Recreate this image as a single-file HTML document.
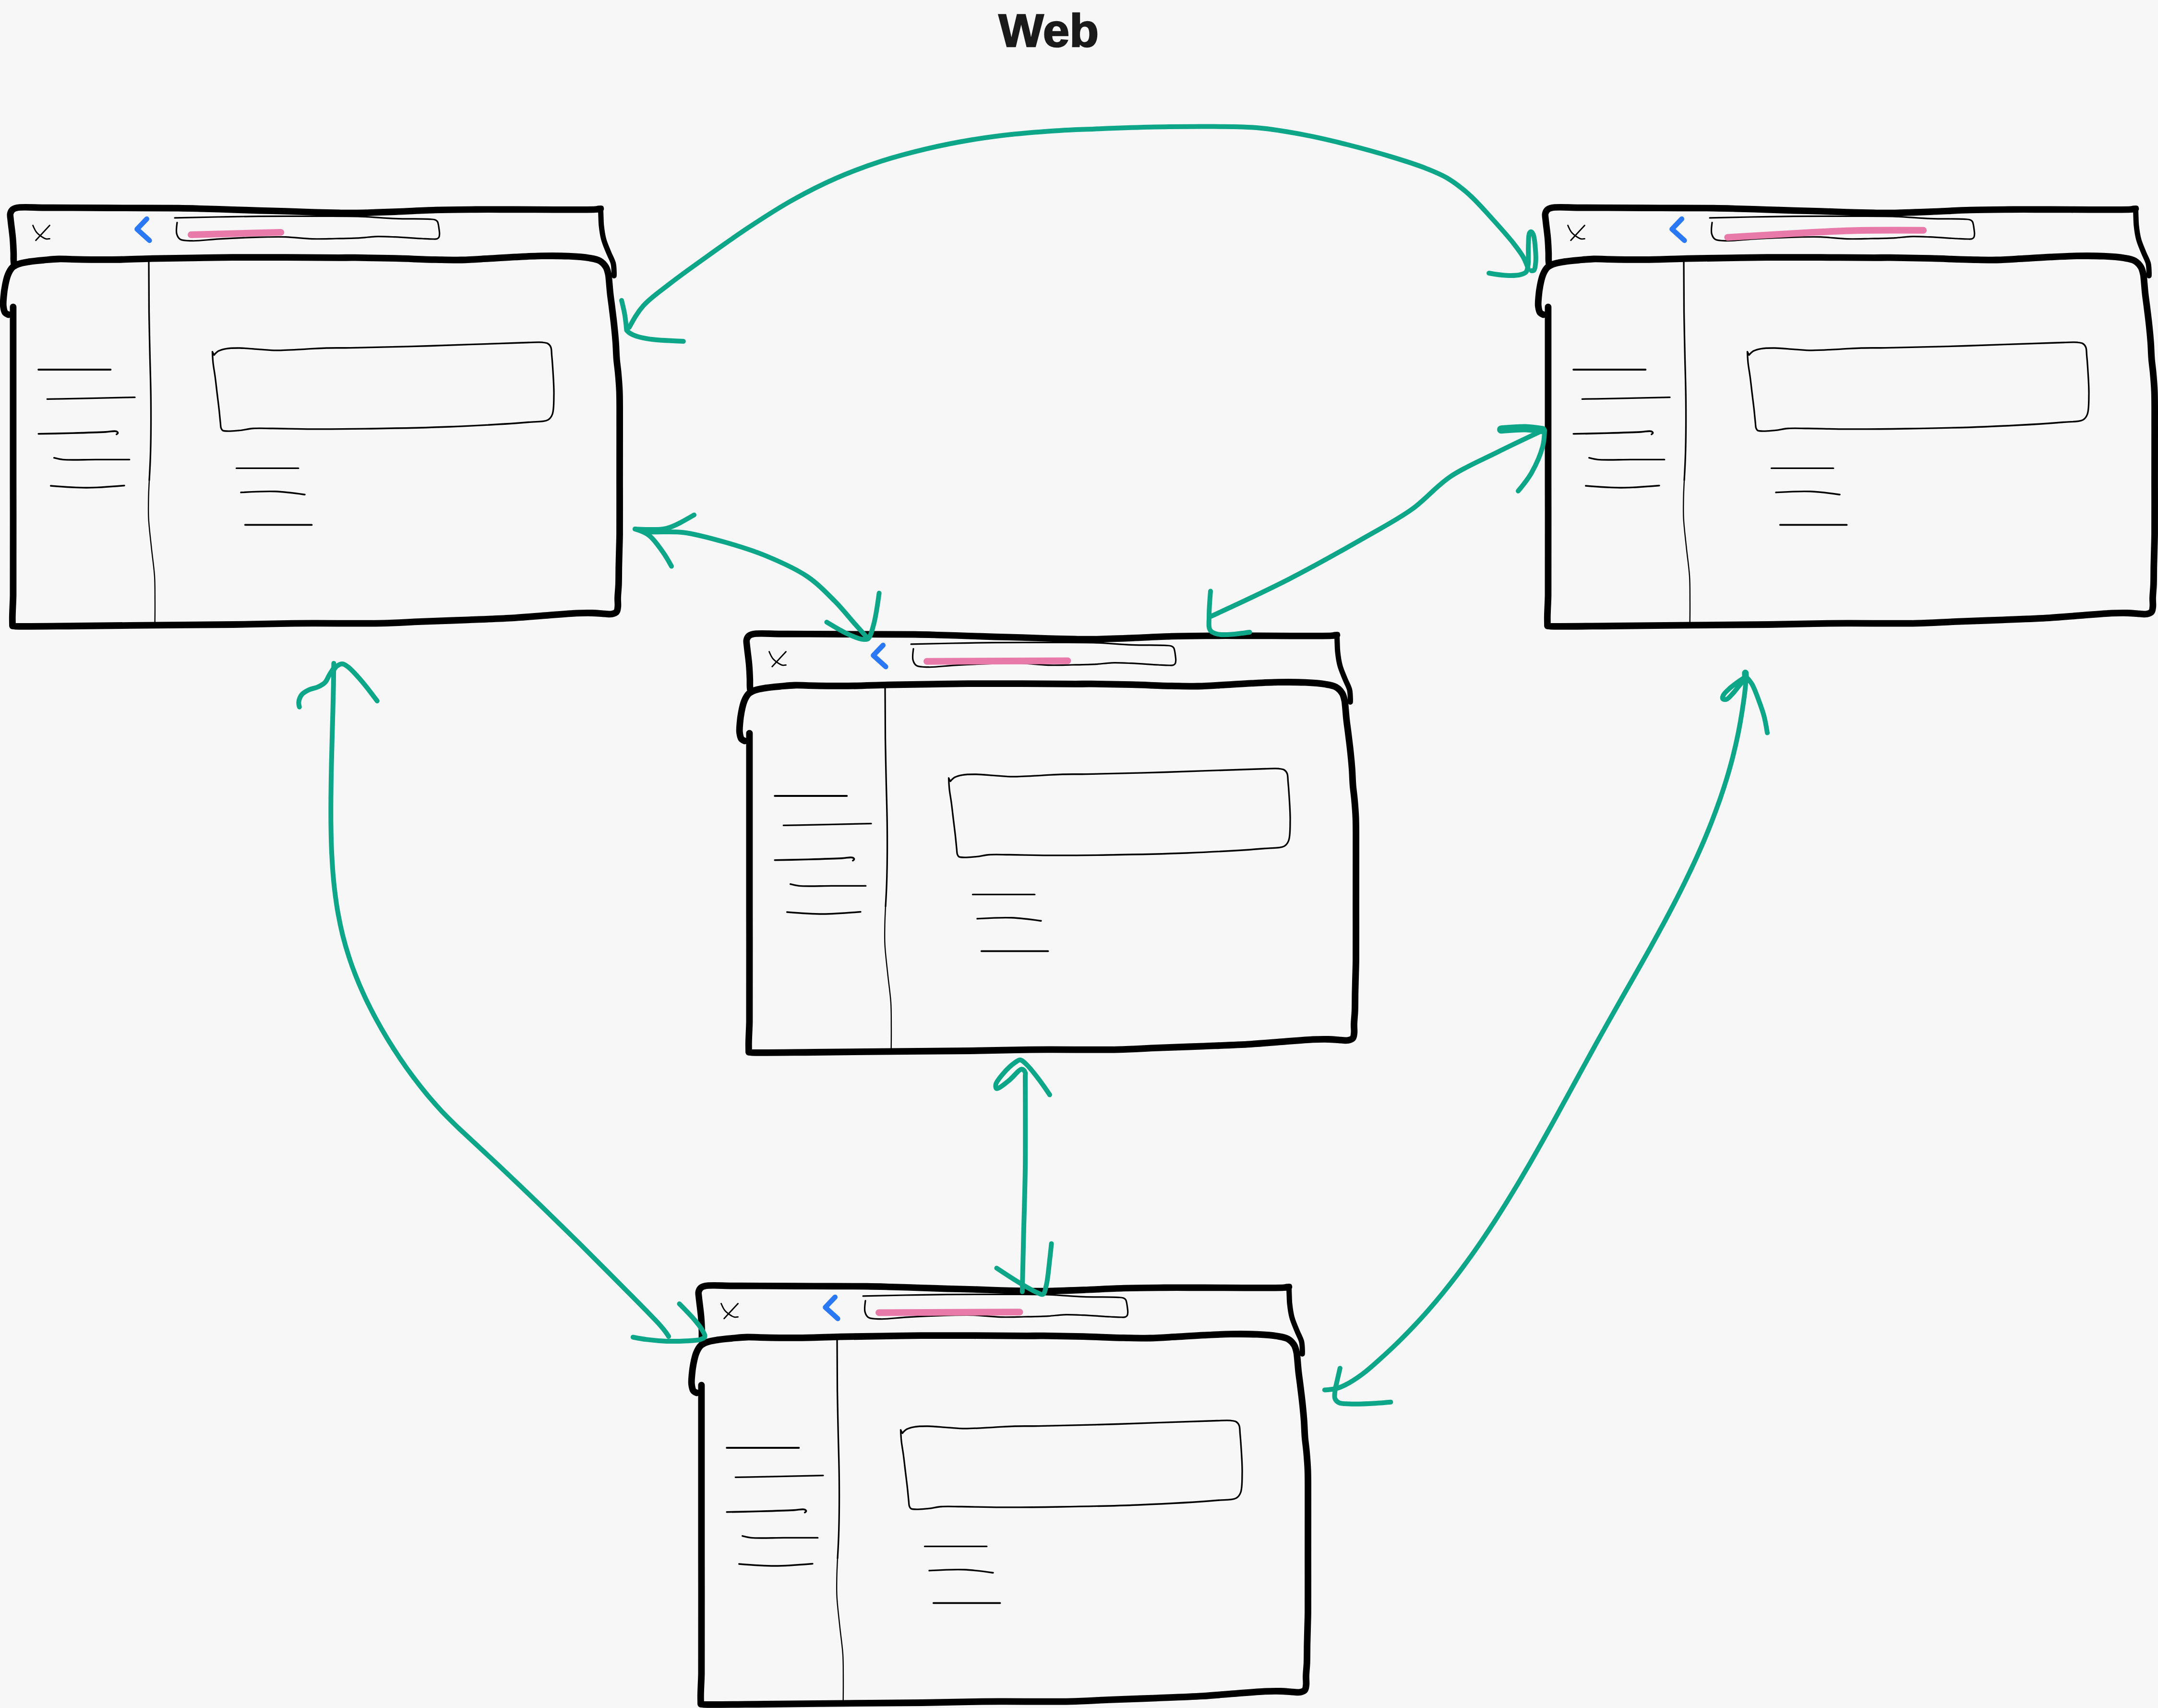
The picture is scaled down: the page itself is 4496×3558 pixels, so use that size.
<!DOCTYPE html>
<html><head><meta charset="utf-8"><title>Web</title>
<style>
html,body{margin:0;padding:0;background:#f7f7f7;}
body{width:4496px;height:3558px;overflow:hidden;}
svg{display:block;}
path{fill:none;stroke-linecap:round;stroke-linejoin:round;}
text{font-family:"Liberation Sans",sans-serif;font-weight:bold;}
</style></head><body>
<svg width="4496" height="3558" viewBox="0 0 4496 3558">
<rect width="4496" height="3558" fill="#f7f7f7"/>
<defs><g id="win">
<path d="M29.0,549.0C28.8,546.8 28.5,544.6 28.4,541.8C28.2,537.7 28.5,532.5 28.3,526.6C28.0,518.2 27.5,506.2 26.6,496.0C25.7,485.9 23.9,473.0 23.1,465.7C22.6,461.6 22.3,459.3 22.0,456.0C21.7,452.5 20.7,448.3 21.5,445.0C22.2,442.0 23.7,438.9 25.9,436.9C28.2,434.8 30.5,433.8 35.0,432.8C45.6,430.5 72.2,432.6 91.3,432.6C111.2,432.6 129.0,432.7 152.2,432.8C183.3,432.9 224.7,433.2 261.2,433.3C298.1,433.4 341.7,433.2 372.4,433.6C394.1,433.9 409.5,434.5 428.0,435.0C446.5,435.5 465.1,436.1 483.6,436.7C502.1,437.3 520.7,438.0 539.2,438.6C557.7,439.1 576.3,439.4 594.8,440.0C613.3,440.6 631.9,441.4 650.4,442.0C668.9,442.6 689.1,443.1 706.0,443.4C720.1,443.6 729.8,443.8 745.0,443.6C766.6,443.3 796.9,442.1 823.4,441.1C850.8,440.1 879.0,438.3 906.8,437.5C934.6,436.7 962.4,436.6 990.2,436.4C1018.0,436.2 1045.8,436.4 1073.6,436.4C1101.4,436.4 1129.2,436.7 1157.0,436.7C1184.8,436.7 1225.5,437.0 1240.4,436.2C1245.8,435.9 1248.7,435.4 1251.5,435.0" stroke="#000" stroke-width="13.6"/>
<path d="M1251.5,436.0C1251.6,441.2 1251.8,446.5 1252.0,452.0C1252.3,458.0 1252.2,463.8 1253.0,470.6C1253.9,479.0 1255.2,489.3 1257.7,498.4C1260.2,507.8 1264.7,517.5 1268.2,526.2C1271.3,534.0 1275.8,541.3 1277.6,548.4C1279.1,554.5 1279.1,561.2 1279.3,566.0C1279.5,569.3 1279.4,571.9 1279.3,574.5" stroke="#000" stroke-width="11"/>
<path d="M1246.0,432.5L1253.5,432.5" stroke="#000" stroke-width="8"/>
<path d="M17.5,655.5C15.0,654.6 12.4,653.6 10.7,651.4C8.4,648.4 7.5,642.7 6.9,637.7C6.2,631.8 7.0,624.7 7.6,617.9C8.2,610.5 9.2,602.6 10.7,595.0C12.2,587.3 13.9,578.9 16.7,572.2C19.1,566.4 22.0,560.7 25.9,557.0C29.3,553.7 33.2,552.0 38.0,550.2C44.3,547.8 52.7,546.5 60.9,545.1C70.3,543.6 81.2,542.7 91.3,541.8C101.5,540.9 111.8,539.8 121.8,539.5C131.4,539.2 138.1,539.9 150.0,540.1C170.4,540.4 205.6,541.1 233.4,540.9C261.2,540.7 289.0,539.3 316.8,538.7C344.6,538.1 372.4,537.7 400.2,537.3C428.0,536.9 453.8,536.4 483.6,536.2C518.0,536.0 557.7,536.1 594.8,536.2C631.9,536.3 679.6,536.8 706.0,536.8C720.6,536.8 726.2,536.6 740.0,536.7C761.7,536.9 795.6,537.5 823.4,538.2C851.2,538.9 881.8,540.4 906.8,540.9C927.2,541.3 943.9,541.9 962.4,541.5C980.9,541.1 999.5,539.7 1018.0,538.7C1036.5,537.7 1055.1,536.3 1073.6,535.4C1092.1,534.5 1110.7,533.5 1129.2,533.2C1147.7,532.9 1167.6,532.9 1184.8,533.7C1199.7,534.4 1214.8,535.3 1226.5,537.3C1235.3,538.8 1243.1,539.7 1249.3,543.2C1254.7,546.3 1259.2,551.1 1262.2,556.0C1265.1,560.6 1266.3,566.5 1267.4,571.5C1268.4,575.9 1268.4,579.4 1268.9,584.4C1269.6,591.5 1270.3,601.6 1271.2,610.2C1272.1,618.8 1273.4,627.4 1274.5,636.0C1275.6,644.6 1276.7,653.2 1277.7,661.8C1278.7,670.4 1279.7,678.9 1280.5,687.5C1281.4,696.1 1282.1,704.1 1282.8,713.3C1283.6,724.0 1283.8,737.0 1284.7,748.0C1285.5,757.9 1286.9,766.0 1287.8,776.2C1288.9,788.2 1290.0,800.4 1290.6,815.5C1291.4,836.1 1291.0,861.5 1291.1,888.5C1291.2,922.0 1291.0,963.5 1291.0,1001.0C1291.0,1038.4 1291.3,1088.0 1291.0,1113.0C1290.8,1125.6 1290.6,1131.1 1290.3,1141.3C1290.0,1153.2 1289.6,1167.2 1289.3,1180.0C1289.1,1192.6 1289.2,1205.9 1288.8,1217.5C1288.4,1227.5 1287.2,1237.2 1287.0,1245.6C1286.8,1252.4 1287.8,1258.7 1287.2,1264.0C1286.7,1268.1 1286.6,1272.1 1284.5,1274.6C1282.5,1277.1 1278.6,1278.2 1275.0,1279.0C1270.6,1279.9 1265.5,1278.9 1259.8,1278.7C1252.3,1278.4 1242.9,1277.2 1233.8,1277.0C1223.6,1276.7 1214.0,1276.9 1201.4,1277.4C1183.5,1278.2 1158.1,1280.6 1136.5,1282.2C1114.9,1283.8 1095.5,1285.7 1071.7,1287.1C1042.6,1288.8 1006.8,1290.0 974.4,1291.3C941.9,1292.6 908.0,1293.7 877.0,1294.9C848.8,1296.0 827.0,1297.7 796.0,1298.4C754.5,1299.3 689.2,1298.2 650.0,1298.4C623.6,1298.5 608.0,1298.7 583.8,1299.1C554.5,1299.5 523.1,1300.5 486.5,1301.0C439.3,1301.6 378.4,1301.8 324.4,1302.3C270.3,1302.8 213.3,1303.6 162.2,1304.0C116.5,1304.3 48.1,1305.3 32.4,1304.6C28.9,1304.4 27.5,1304.2 26.0,1304.0C25.9,1297.8 25.7,1291.6 25.8,1285.0C25.9,1277.7 26.3,1269.6 26.6,1262.0C26.9,1254.6 27.2,1251.3 27.4,1240.0C28.1,1202.8 27.4,1088.1 27.4,1000.0C27.4,892.0 27.4,765.7 27.4,639.4" stroke="#000" stroke-width="13.8"/>
<path d="M68.5,469.5C70.7,474.7 72.9,479.9 76.1,483.9C79.1,487.6 83.2,490.6 86.8,493.0C89.8,495.0 92.9,497.0 95.9,497.6C98.5,498.2 101.0,497.7 103.5,497.3M103.5,469.5L74.6,500.7" stroke="#000" stroke-width="2.8"/>
<path d="M310.0,545.0C310.0,580.7 310.1,616.3 310.5,650.0C310.9,681.2 311.7,709.4 312.3,740.0C313.0,771.7 314.2,804.2 314.4,837.0C314.7,870.8 314.5,910.3 313.7,940.0C313.1,962.7 312.1,981.3 311.0,1000.0" stroke="#000" stroke-width="3.3"/>
<path d="M311.0,1000.0C310.3,1013.3 309.6,1026.7 309.4,1040.0C309.2,1053.3 308.8,1065.2 309.6,1080.0C310.5,1098.4 313.5,1121.5 315.6,1141.8C317.6,1161.5 320.8,1181.3 322.0,1200.0C323.1,1217.3 322.8,1233.7 322.9,1250.0C323.0,1265.7 322.9,1280.8 322.7,1296.0" stroke="#000" stroke-width="2.4"/>
<path d="M364.1,453.9C392.6,453.2 421.1,452.5 450.0,452.0C479.5,451.4 507.9,450.9 539.2,450.6C574.1,450.3 614.0,450.4 650.0,450.5C684.2,450.6 719.3,450.1 750.0,451.1C776.4,451.9 799.0,454.4 823.4,455.3C847.7,456.2 882.9,455.7 896.0,456.6C900.9,456.9 903.3,456.8 906.0,457.8C908.2,458.6 910.1,459.8 911.3,461.5C912.5,463.2 912.8,465.7 913.3,468.0C913.9,470.6 914.2,473.3 914.6,476.2C915.0,479.5 915.8,483.8 915.7,487.0C915.6,489.6 915.6,492.2 914.6,494.0C913.7,495.6 912.2,496.8 910.5,497.5C908.5,498.3 906.2,498.0 903.0,498.0C897.3,498.1 888.7,497.5 879.0,497.0C864.3,496.3 840.6,494.4 823.4,493.7C808.5,493.1 794.6,492.4 781.7,492.8C770.4,493.2 761.8,494.9 750.0,495.6C735.2,496.5 716.6,496.7 700.0,497.0C683.4,497.3 667.4,498.1 650.4,497.6C632.4,497.1 613.3,494.3 594.8,493.7C576.3,493.1 559.6,493.7 539.2,494.2C514.2,494.9 480.8,496.4 455.8,497.8C435.4,499.0 415.1,502.2 400.2,501.7C390.2,501.4 380.6,501.8 375.2,498.4C371.3,495.9 369.5,491.9 368.2,487.3C366.5,481.1 367.8,472.4 369.0,463.7" stroke="#000" stroke-width="3.2"/>
<path d="M442.5,732.7L446.0,739.6C448.6,736.5 451.2,733.4 455.0,731.3C459.5,728.8 465.4,727.5 471.7,726.4C479.7,725.0 489.3,724.9 499.5,725.0C512.0,725.1 527.9,727.0 541.2,727.8C553.3,728.6 562.7,729.8 576.0,729.9C593.8,730.0 619.8,728.0 638.5,727.1C653.8,726.4 665.7,725.4 680.2,725.0C696.1,724.5 708.6,725.0 730.0,724.6C769.1,724.0 837.7,722.2 895.9,720.5C960.6,718.6 1063.4,714.3 1100.8,713.5C1114.9,713.2 1122.6,712.5 1130.0,713.2C1134.6,713.6 1138.0,713.8 1141.0,715.5C1143.8,717.1 1146.1,719.7 1147.5,723.0C1149.4,727.3 1148.9,733.4 1149.5,740.0C1150.4,749.2 1151.3,760.9 1152.0,773.0C1152.9,787.7 1154.3,806.4 1154.0,822.0C1153.7,836.3 1154.3,853.8 1150.8,863.0C1148.7,868.5 1146.7,871.8 1141.8,874.6C1133.5,879.3 1119.1,877.9 1100.8,879.5C1064.4,882.7 991.6,886.7 936.9,889.0C882.3,891.2 823.7,892.2 773.0,893.0C729.1,893.7 686.7,894.1 650.0,893.9C620.2,893.8 591.6,892.7 569.0,892.5C552.8,892.4 539.8,891.6 527.3,892.5C517.1,893.3 508.1,895.8 499.5,896.7C492.1,897.5 485.0,898.2 478.7,898.1C473.4,898.0 467.0,898.4 464.0,896.7C462.1,895.6 461.4,894.0 460.6,891.9C459.5,889.0 459.7,885.3 459.2,880.7C458.4,873.5 457.5,862.7 456.4,852.9C455.2,842.0 453.6,829.8 452.2,818.2C450.8,806.6 449.5,794.3 448.0,783.4C446.7,773.6 444.8,764.4 443.9,755.6C443.1,747.6 442.8,740.2 442.5,732.7" stroke="#000" stroke-width="3.3"/>
<path d="M80.2,769.9L230.3,769.9" stroke="#000" stroke-width="4"/>
<path d="M98.2,831.3C128.8,830.8 159.5,830.3 190.0,829.7C220.4,829.1 250.7,828.3 281.0,827.6" stroke="#000" stroke-width="3.2"/>
<path d="M80.2,903.8C103.5,903.4 126.7,902.9 150.0,902.3C173.3,901.6 203.1,900.7 219.9,899.9C229.4,899.4 238.0,897.0 242.1,898.5C244.0,899.2 245.6,900.9 245.6,902.0C245.6,903.0 244.2,903.8 242.8,904.7" stroke="#000" stroke-width="3.6"/>
<path d="M112.7,953.7C117.8,955.1 122.9,956.6 131.0,957.4C146.6,959.0 176.9,957.4 200.0,957.4C223.2,957.4 246.4,957.4 269.7,957.4" stroke="#000" stroke-width="3.4"/>
<path d="M105.7,1012.0C130.3,1014.0 154.9,1016.0 180.0,1016.0C205.9,1016.0 232.5,1013.7 259.0,1011.5" stroke="#000" stroke-width="3.4"/>
<path d="M492.6,975.4L621.7,975.4" stroke="#000" stroke-width="3.4"/>
<path d="M502.0,1025.8C526.4,1024.4 550.9,1022.9 573.8,1023.8C595.0,1024.6 615.0,1027.5 635.0,1030.3" stroke="#000" stroke-width="3.4"/>
<path d="M510.7,1093.4L649.6,1093.4" stroke="#000" stroke-width="3.6"/>
<path d="M305.8,456.0L285.4,477.3L311.4,500.9" stroke="#2b78f5" stroke-width="10.5"/>
</g></defs>
<text x="2080.5" y="96.8" font-size="97" fill="#1a1a1a" stroke="#1a1a1a" stroke-width="2.5" textLength="208.5" lengthAdjust="spacingAndGlyphs">Web</text>
<g transform="translate(0,0)"><use href="#win"/><path d="M398.0,489.0L585.2,484.0" stroke="#e87aa9" stroke-width="14"/></g>
<g transform="translate(3198,0)"><use href="#win"/><path d="M401.3,494.4C458.0,490.9 514.7,487.5 561.5,485.0C597.9,483.1 622.8,481.3 658.8,480.4C703.5,479.3 756.4,479.5 809.3,479.8" stroke="#e87aa9" stroke-width="14"/></g>
<g transform="translate(1534,888)"><use href="#win"/><path d="M397.0,489.8L690.4,488.5" stroke="#e87aa9" stroke-width="14"/></g>
<g transform="translate(1434,2246)"><use href="#win"/><path d="M397.0,488.4L690.4,487.2" stroke="#e87aa9" stroke-width="14"/></g>
<g stroke="#0ea689" stroke-width="10">
<path d="M1311.0,682.0C1319.3,666.6 1327.6,651.2 1340.2,637.0C1354.8,620.5 1376.0,606.2 1395.8,590.7C1417.5,573.8 1440.4,557.6 1465.4,539.7C1494.0,519.2 1526.9,495.5 1558.0,474.9C1588.6,454.6 1619.4,434.6 1650.7,417.0C1681.2,399.9 1712.1,384.2 1743.4,370.6C1773.9,357.3 1804.9,345.9 1836.0,335.8C1866.7,325.9 1897.8,317.8 1928.8,310.4C1959.6,303.1 1990.4,297.0 2021.4,291.8C2052.2,286.6 2083.1,282.6 2114.0,279.3C2144.9,276.0 2177.7,273.7 2206.8,271.9C2232.6,270.3 2256.5,269.7 2280.0,268.7C2301.7,267.8 2319.8,267.0 2342.7,266.3C2370.6,265.4 2404.5,264.4 2435.4,264.0C2466.3,263.6 2497.1,263.2 2528.0,263.6C2558.9,264.0 2589.9,263.6 2620.7,266.3C2651.7,269.1 2682.6,274.4 2713.4,280.2C2744.4,286.0 2775.2,293.3 2806.0,301.0C2837.0,308.8 2870.2,317.9 2898.8,326.6C2923.7,334.2 2947.7,341.6 2968.3,349.7C2985.5,356.4 2999.6,361.8 3014.6,370.6C3030.6,380.1 3046.1,392.1 3061.0,405.4C3077.1,419.7 3092.1,437.2 3107.3,454.0C3122.9,471.2 3141.6,492.0 3153.6,507.3C3162.0,518.1 3168.6,526.8 3173.8,536.0C3178.1,543.7 3180.8,551.1 3183.5,558.5"/>
<path d="M1295.0,625.8C1297.3,635.1 1299.7,644.4 1301.4,654.3C1303.3,665.0 1304.4,676.5 1305.5,688.0C1307.2,689.8 1308.9,691.6 1311.0,693.2C1313.4,695.0 1316.3,696.4 1319.5,697.8C1323.5,699.5 1327.9,701.1 1333.4,702.5C1341.0,704.4 1350.0,706.0 1361.2,707.3C1377.8,709.2 1400.8,710.1 1423.8,711.0"/>
<path d="M3102.0,569.0C3114.8,571.2 3127.5,573.3 3139.0,573.8C3148.9,574.2 3159.5,574.2 3166.8,572.4C3171.9,571.2 3176.5,570.0 3179.3,566.8C3182.2,563.6 3182.6,558.9 3183.5,553.0C3185.1,542.9 3183.6,523.2 3184.2,511.0C3184.7,501.6 3184.2,490.3 3186.3,486.0C3187.2,484.1 3188.6,482.6 3189.8,482.7C3191.3,482.8 3193.3,485.9 3194.6,489.0C3197.1,495.0 3198.0,508.4 3198.8,518.0C3199.6,527.4 3200.2,537.9 3199.5,546.0C3198.9,552.3 3198.4,560.2 3196.0,562.7C3194.6,564.1 3192.5,564.1 3190.5,564.0"/>
<path d="M1446.0,1072.7C1426.2,1084.3 1406.4,1096.0 1389.0,1100.6C1375.7,1104.1 1363.6,1102.8 1352.0,1103.0C1341.7,1103.2 1332.4,1102.6 1323.0,1102.0C1333.0,1105.1 1342.9,1108.3 1351.8,1115.0C1362.4,1123.0 1372.4,1138.0 1380.6,1149.4C1387.9,1159.5 1393.4,1169.6 1399.0,1179.6"/>
<path d="M1323.0,1102.0C1331.5,1104.2 1340.0,1106.4 1351.8,1107.7C1370.3,1109.7 1398.8,1106.1 1423.7,1109.2C1451.3,1112.7 1481.3,1121.2 1509.8,1129.3C1538.7,1137.5 1567.7,1146.3 1596.0,1158.0C1625.1,1170.1 1657.2,1184.1 1682.0,1201.0C1704.3,1216.2 1722.3,1235.3 1739.7,1252.8C1755.6,1268.9 1770.2,1287.6 1782.8,1301.7C1792.5,1312.6 1800.5,1321.5 1808.6,1330.4"/>
<path d="M1722.4,1296.0C1738.5,1305.8 1754.6,1315.6 1768.4,1321.8C1778.8,1326.5 1789.5,1331.0 1797.0,1331.8C1801.7,1332.3 1805.3,1332.9 1808.6,1330.4C1813.9,1326.3 1816.7,1313.4 1820.0,1301.7C1824.9,1284.4 1828.3,1260.0 1831.6,1235.6"/>
<path d="M2522.0,1231.6C2520.4,1250.8 2518.9,1270.0 2519.0,1284.8C2519.1,1295.5 2517.1,1306.3 2521.0,1312.4C2524.1,1317.3 2529.3,1319.3 2536.7,1321.0C2551.0,1324.2 2577.3,1320.6 2603.6,1317.0"/>
<path d="M2521.0,1284.8C2576.6,1259.3 2632.2,1233.7 2686.3,1206.0C2739.9,1178.5 2797.7,1145.9 2843.9,1119.4C2880.8,1098.2 2912.2,1082.0 2942.4,1060.3C2971.0,1039.7 2992.1,1012.8 3021.0,993.3C3051.0,973.1 3087.0,958.3 3119.6,942.0C3151.3,926.2 3182.6,911.5 3214.0,896.8"/>
<path d="M3178.7,892.0L3218.0,896.8C3217.6,907.4 3217.3,918.0 3214.0,930.3C3209.6,946.7 3199.7,969.3 3190.5,985.4C3182.4,999.6 3172.7,1011.2 3163.0,1022.8"/>
<path d="M695.4,1381.7C695.2,1397.5 695.0,1413.3 694.7,1429.1C694.4,1444.8 694.0,1460.6 693.6,1476.4C693.2,1492.1 692.8,1507.9 692.3,1523.6C691.9,1539.4 691.5,1555.1 691.1,1570.9C690.7,1586.7 690.3,1602.4 690.0,1618.2C689.8,1634.0 689.5,1649.8 689.4,1665.6C689.3,1681.4 689.3,1697.3 689.4,1713.1C689.6,1728.9 689.9,1744.8 690.4,1760.6C691.0,1776.4 691.8,1792.2 692.9,1808.0C694.0,1823.7 695.4,1839.5 697.3,1855.1C699.2,1870.7 701.4,1886.3 704.1,1901.7C706.9,1917.2 710.1,1932.6 713.8,1947.8C717.6,1963.0 722.0,1978.1 726.9,1993.0C731.7,2008.0 737.2,2022.8 743.1,2037.4C748.9,2052.1 755.4,2066.5 762.1,2080.8C768.9,2095.1 776.1,2109.3 783.7,2123.2C791.2,2137.1 799.2,2150.9 807.4,2164.4C815.7,2178.0 824.2,2191.3 833.1,2204.5C841.9,2217.6 851.0,2230.5 860.5,2243.1C869.9,2255.7 879.7,2268.1 889.8,2280.2C899.9,2292.3 910.3,2304.1 921.0,2315.6C931.8,2327.0 943.1,2338.0 954.4,2349.0C983.2,2375.7 1012.1,2402.4 1040.7,2429.4C1069.3,2456.4 1097.7,2483.5 1126.0,2510.8C1154.2,2538.1 1182.3,2565.6 1210.3,2593.3C1238.2,2620.9 1265.9,2648.7 1293.5,2676.7C1321.1,2704.7 1361.2,2744.8 1375.8,2761.2C1381.5,2767.6 1383.9,2770.8 1387.0,2775.0C1389.4,2778.3 1391.2,2781.1 1393.0,2784.0"/>
<path d="M623.8,1472.8C622.9,1469.4 621.9,1466.1 622.4,1462.3C623.0,1457.6 625.4,1451.1 628.7,1447.0C632.1,1442.8 637.3,1440.1 642.6,1437.5C648.7,1434.5 657.3,1433.4 663.4,1430.5C668.7,1428.0 673.6,1425.4 677.3,1421.5C681.1,1417.5 682.9,1411.5 685.7,1406.7C688.4,1402.1 691.2,1397.8 694.0,1393.5"/>
<path d="M695.4,1395.6C697.4,1392.5 699.4,1389.4 702.3,1387.3C705.4,1385.1 709.7,1382.7 713.5,1383.0C717.6,1383.3 721.3,1386.4 726.0,1390.0C733.8,1396.1 744.5,1408.4 753.8,1419.2C764.4,1431.5 775.1,1445.9 785.8,1460.3"/>
<path d="M1318.8,2785.5C1327.8,2787.3 1336.9,2789.1 1347.3,2790.4C1359.9,2792.0 1375.1,2793.4 1389.0,2793.9C1402.9,2794.4 1418.2,2793.9 1430.7,2793.2C1440.9,2792.6 1451.8,2792.5 1458.5,2790.4C1462.8,2789.0 1467.2,2787.7 1468.3,2784.9C1469.5,2781.8 1466.4,2776.8 1464.0,2772.3C1460.7,2766.0 1455.1,2759.1 1448.8,2751.5C1440.1,2741.0 1427.7,2728.5 1415.4,2716.0"/>
<path d="M2129.8,2690.8C2130.7,2651.8 2131.6,2612.8 2132.6,2571.4C2133.7,2526.5 2135.4,2481.3 2136.0,2431.0C2136.7,2372.5 2136.0,2261.7 2136.0,2241.3C2136.0,2237.4 2136.9,2236.5 2136.0,2234.3C2134.9,2231.7 2132.2,2227.4 2129.0,2227.3C2122.8,2227.1 2110.3,2244.8 2101.0,2251.8C2092.8,2258.0 2080.0,2269.1 2076.4,2267.6C2074.4,2266.8 2074.0,2262.3 2074.7,2258.9C2076.0,2252.9 2084.2,2243.3 2090.5,2236.0C2097.4,2228.0 2108.2,2217.9 2115.0,2213.2C2119.0,2210.4 2121.9,2207.7 2125.6,2208.0C2130.1,2208.4 2134.6,2213.7 2139.6,2218.5C2147.0,2225.6 2156.3,2238.0 2164.2,2248.3C2172.1,2258.7 2179.6,2269.7 2187.0,2280.6"/>
<path d="M2076.4,2641.7C2093.4,2653.0 2110.4,2664.3 2125.6,2673.3C2138.1,2680.8 2151.8,2689.0 2160.7,2692.6C2165.7,2694.6 2169.9,2697.6 2173.0,2696.0C2176.9,2694.0 2178.0,2684.9 2180.0,2676.8C2183.2,2663.7 2185.1,2639.6 2187.0,2624.0C2188.5,2611.6 2189.5,2601.2 2190.6,2590.7"/>
<path d="M3636.2,1400.0C3636.8,1406.5 3637.4,1413.1 3637.0,1422.3C3636.3,1437.4 3632.4,1463.3 3629.5,1482.0C3626.9,1498.7 3624.2,1513.7 3621.0,1529.4C3617.8,1545.0 3614.2,1560.5 3610.3,1575.9C3606.4,1591.2 3602.1,1606.4 3597.6,1621.4C3593.0,1636.5 3588.1,1651.4 3583.0,1666.2C3577.8,1681.0 3572.4,1695.7 3566.7,1710.3C3561.1,1724.9 3555.1,1739.4 3549.0,1753.8C3542.8,1768.2 3536.4,1782.5 3529.9,1796.7C3523.3,1810.9 3516.5,1825.0 3509.6,1839.1C3502.7,1853.2 3495.6,1867.2 3488.4,1881.1C3481.2,1895.1 3473.8,1909.0 3466.4,1922.9C3458.9,1936.7 3451.4,1950.6 3443.7,1964.4C3436.1,1978.2 3428.4,1991.9 3420.6,2005.7C3412.9,2019.5 3405.0,2033.2 3397.2,2047.0C3389.4,2060.7 3381.5,2074.5 3373.7,2088.2C3365.9,2102.0 3358.0,2115.8 3350.3,2129.6C3342.5,2143.4 3334.7,2157.2 3327.0,2171.1C3319.4,2185.0 3311.7,2198.9 3304.1,2212.8C3296.5,2226.7 3288.9,2240.6 3281.3,2254.5C3273.7,2268.4 3266.1,2282.3 3258.5,2296.2C3250.9,2310.1 3243.3,2324.0 3235.6,2337.8C3227.9,2351.7 3220.2,2365.5 3212.5,2379.3C3204.7,2393.0 3196.9,2406.8 3189.1,2420.4C3181.2,2434.1 3173.2,2447.7 3165.2,2461.3C3157.1,2474.8 3149.0,2488.2 3140.7,2501.6C3132.5,2515.0 3124.1,2528.3 3115.6,2541.5C3107.1,2554.6 3098.4,2567.7 3089.6,2580.7C3080.8,2593.6 3071.9,2606.5 3062.8,2619.2C3053.7,2631.9 3044.4,2644.5 3034.9,2656.9C3025.4,2669.4 3015.7,2681.7 3005.8,2693.8C2995.9,2705.9 2985.8,2717.9 2975.5,2729.7C2965.1,2741.5 2954.6,2753.1 2943.7,2764.5C2932.9,2776.0 2921.8,2787.2 2910.5,2798.3C2899.1,2809.3 2887.5,2820.2 2875.6,2830.8C2863.7,2841.4 2851.4,2852.8 2839.0,2862.0C2827.6,2870.5 2814.6,2879.0 2804.3,2884.3C2796.7,2888.2 2790.7,2890.7 2783.4,2892.6C2775.9,2894.5 2767.8,2895.0 2759.8,2895.4"/>
<path d="M3635.5,1411.0C3631.5,1413.4 3627.5,1415.8 3623.0,1419.0C3617.3,1423.0 3609.9,1428.3 3604.3,1433.3C3599.1,1438.0 3592.7,1443.5 3590.5,1448.0C3589.1,1450.8 3588.2,1454.5 3589.3,1456.0C3590.4,1457.4 3594.3,1457.7 3597.0,1456.8C3601.1,1455.4 3606.0,1449.1 3610.3,1444.5C3615.0,1439.5 3619.5,1433.1 3623.8,1428.0C3627.6,1423.5 3631.3,1419.4 3634.9,1415.3"/>
<path d="M3639.0,1411.0C3642.7,1415.0 3646.5,1419.0 3650.0,1425.0C3655.0,1433.5 3659.8,1447.2 3664.0,1458.4C3668.2,1469.5 3672.2,1480.5 3675.2,1491.8C3678.2,1503.2 3680.1,1514.9 3682.0,1526.6"/>
<path d="M2791.8,2850.2C2789.9,2858.3 2788.0,2866.4 2786.2,2874.5C2784.5,2882.4 2782.0,2891.1 2781.3,2898.2C2780.7,2903.8 2779.7,2909.4 2781.3,2913.5C2782.7,2917.0 2785.3,2919.9 2789.0,2921.8C2794.2,2924.5 2802.6,2924.1 2811.2,2924.6C2822.9,2925.2 2838.9,2924.5 2853.0,2923.9C2867.6,2923.3 2882.5,2922.0 2897.4,2920.7"/>
<path d="M3127.5,894.8C3145.4,893.2 3163.2,891.5 3178.7,892.0C3191.6,892.4 3202.8,894.2 3214.0,896.0" stroke-width="17"/>
<path d="M3636.3,1402.0L3636.6,1414.0" stroke-width="14"/>
</g>
</svg>
</body></html>
